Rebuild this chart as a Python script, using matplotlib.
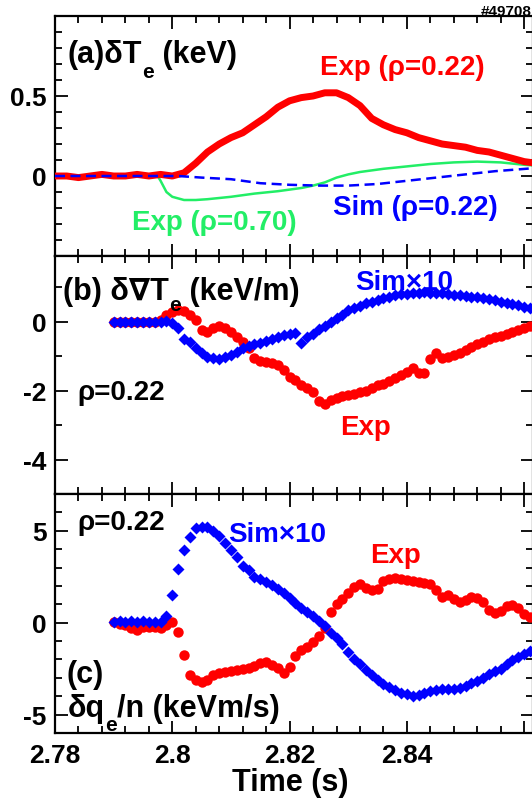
import numpy as np
import matplotlib
matplotlib.use("Agg")
import matplotlib.pyplot as plt
from matplotlib.ticker import MultipleLocator, FixedLocator

plt.rcParams['font.family'] = ['Liberation Sans', 'DejaVu Sans']
plt.rcParams['font.weight'] = 'bold'

RED = '#ff0000'
BLUE = '#0000ff'
GREEN = '#22ee66'

# ---- (a) electron temperature perturbation -------------------------------
t_exp_a = [2.780, 2.782, 2.784, 2.786, 2.788, 2.790, 2.792, 2.794, 2.796, 2.798,
           2.800, 2.802, 2.804, 2.806, 2.808, 2.810, 2.812, 2.814, 2.816, 2.818,
           2.820, 2.822, 2.824, 2.826, 2.828, 2.830, 2.832, 2.834, 2.836, 2.838,
           2.840, 2.842, 2.844, 2.846, 2.848, 2.850, 2.852, 2.854, 2.856, 2.858,
           2.860, 2.862]
dTe_exp_022 = [0.00, 0.00, -0.01, 0.00, 0.01, 0.00, 0.00, 0.01, 0.00, 0.01,
               0.00, 0.02, 0.08, 0.15, 0.20, 0.24, 0.27, 0.32, 0.37, 0.43,
               0.47, 0.49, 0.50, 0.52, 0.52, 0.49, 0.44, 0.36, 0.32, 0.29,
               0.27, 0.24, 0.22, 0.20, 0.19, 0.18, 0.16, 0.15, 0.13, 0.11,
               0.09, 0.08]

t_exp_070 = [2.780, 2.790, 2.7975, 2.798, 2.799, 2.800, 2.802, 2.804, 2.806, 2.810,
             2.814, 2.818, 2.820, 2.822, 2.824, 2.826, 2.828, 2.830, 2.832, 2.834,
             2.836, 2.840, 2.844, 2.848, 2.852, 2.856, 2.860, 2.862]
dTe_exp_070 = [0.00, 0.00, 0.00, -0.03, -0.10, -0.13, -0.15, -0.15, -0.145, -0.13,
               -0.11, -0.095, -0.085, -0.075, -0.06, -0.04, -0.01, 0.01, 0.025, 0.035,
               0.045, 0.06, 0.075, 0.085, 0.09, 0.085, 0.07, 0.065]

t_sim_a = [2.780, 2.801, 2.805, 2.810, 2.815, 2.820, 2.825, 2.830, 2.835, 2.840,
           2.845, 2.850, 2.855, 2.862]
dTe_sim = [0.00, 0.00, -0.01, -0.02, -0.045, -0.055, -0.06, -0.06, -0.05, -0.03,
           -0.01, 0.01, 0.03, 0.05]

# ---- (b), (c) profiles sampled every 1 ms at rho = 0.22 --------------------
t_bc = np.round(np.arange(2.790, 2.8615, 0.001), 3)

dgradTe_exp = [0.00, 0.00, 0.00, -0.02, -0.02, 0.00, 0.00, 0.00, 0.05, 0.18,
               0.28, 0.33, 0.30, 0.20, 0.05, -0.25, -0.30, -0.18, -0.14, -0.18,
               -0.30, -0.45, -0.60, -0.78, -1.05, -1.15, -1.18, -1.20, -1.25, -1.40,
               -1.60, -1.70, -1.85, -1.93, -2.05, -2.30, -2.38, -2.28, -2.22, -2.16,
               -2.13, -2.10, -2.05, -2.00, -1.93, -1.85, -1.80, -1.72, -1.64, -1.56,
               -1.47, -1.35, -1.50, -1.48, -1.10, -0.92, -1.05, -1.02, -0.98, -0.90,
               -0.82, -0.74, -0.65, -0.58, -0.50, -0.46, -0.42, -0.37, -0.30, -0.24,
               -0.20, -0.13]
dgradTe_sim10 = [0.00, 0.00, 0.00, 0.00, 0.00, 0.00, 0.00, 0.00, 0.00, 0.03,
                 -0.03, -0.20, -0.50, -0.60, -0.77, -0.92, -1.02, -1.07, -1.08, -1.04,
                 -0.97, -0.88, -0.78, -0.72, -0.66, -0.61, -0.55, -0.50, -0.44, -0.40,
                 -0.36, -0.32, -0.62, -0.46, -0.35, -0.22, -0.12, -0.02, 0.10, 0.20,
                 0.32, 0.40, 0.46, 0.53, 0.58, 0.63, 0.68, 0.72, 0.76, 0.79,
                 0.81, 0.83, 0.84, 0.85, 0.84, 0.83, 0.82, 0.80, 0.78, 0.76,
                 0.74, 0.72, 0.70, 0.68, 0.65, 0.62, 0.58, 0.55, 0.51, 0.47,
                 0.43, 0.39]

dqe_exp = [0.05, -0.05, -0.10, -0.30, -0.40, -0.25, -0.25, -0.25, -0.30, -0.10,
           0.05, -0.50, -1.75, -2.85, -3.10, -3.20, -3.10, -2.85, -2.75, -2.70,
           -2.65, -2.55, -2.50, -2.45, -2.35, -2.20, -2.15, -2.30, -2.45, -2.75,
           -2.40, -1.80, -1.50, -1.30, -1.05, -0.75, -0.30, 0.60, 1.00, 1.30,
           1.60, 1.95, 2.10, 1.90, 1.80, 1.85, 2.25, 2.40, 2.45, 2.38,
           2.30, 2.27, 2.22, 2.18, 2.10, 1.80, 1.40, 1.50, 1.30, 1.15,
           1.25, 1.38, 1.35, 1.10, 0.70, 0.50, 0.65, 0.90, 0.95, 0.80,
           0.45, 0.30]
dqe_sim10 = [0.05, 0.08, 0.05, 0.08, 0.05, 0.08, 0.05, 0.05, 0.05, 0.35,
             1.50, 2.90, 3.95, 4.65, 5.15, 5.20, 5.20, 5.00, 4.70, 4.35,
             3.95, 3.55, 3.10, 2.85, 2.50, 2.35, 2.22, 2.05, 1.85, 1.60,
             1.35, 1.05, 0.82, 0.60, 0.35, 0.10, -0.20, -0.55, -0.85, -1.15,
             -1.60, -1.95, -2.24, -2.55, -2.85, -3.10, -3.35, -3.50, -3.65, -3.80,
             -3.90, -3.97, -3.92, -3.85, -3.72, -3.66, -3.62, -3.60, -3.60, -3.55,
             -3.42, -3.30, -3.15, -3.00, -2.80, -2.65, -2.50, -2.25, -2.05, -1.85,
             -1.70, -1.55]

x_ticks = [2.78, 2.80, 2.82, 2.84]
x_ticklabels = ['2.78', '2.8', '2.82', '2.84']

# ---- figure layout -------------------------------------------------------
W, H = 532, 803
fig = plt.figure(figsize=(W / 100, H / 100), dpi=100)


def px_axes(x0, y0, x1, y1):
    return fig.add_axes([x0 / W, 1 - y1 / H, (x1 - x0) / W, (y1 - y0) / H])


ax_a = px_axes(55, 17, 533, 257)
ax_b = px_axes(55, 257, 533, 495)
ax_c = px_axes(55, 495, 533, 734)

for ax in (ax_a, ax_b, ax_c):
    ax.set_xlim(2.78, 2.8615)
    ax.xaxis.set_major_locator(FixedLocator([2.78, 2.80, 2.82, 2.84, 2.86]))
    ax.xaxis.set_minor_locator(MultipleLocator(0.004))
    ax.tick_params(which='both', direction='in', top=True, right=True,
                   labelsize=19, width=1.3, pad=6)
    ax.tick_params(which='major', length=9)
    ax.tick_params(which='minor', length=5)
    for sp in ax.spines.values():
        sp.set_linewidth(1.6)
    ax.set_xticklabels([])

LBL = 20      # annotation size
PNL = 22      # panel title size
SUB = 15      # subscript size
tkw = dict(fontweight='bold', va='baseline', ha='left')


def subscript_label(ax, x, y, head, sub, tail, drop):
    """Panel title with a dropped subscript: head + sub + tail."""
    t0 = ax.text(x, y, head, transform=ax.transAxes, fontsize=PNL, **tkw)
    d_main = 0.212 * PNL * 100 / 72
    d_sub = 0.212 * SUB * 100 / 72
    t1 = ax.annotate(sub, xy=(1, 0), xycoords=t0, xytext=(0, d_main - d_sub - drop),
                     textcoords='offset pixels', fontsize=SUB, fontweight='bold',
                     va='bottom', ha='left')
    ax.annotate(tail, xy=(1, 0), xycoords=(t1, t0), xytext=(0, 0),
                textcoords='offset pixels', fontsize=PNL, fontweight='bold',
                va='bottom', ha='left')


# (a)
ax_a.plot(t_exp_070, dTe_exp_070, color=GREEN, lw=1.8, zorder=2)
ax_a.plot(t_exp_a, dTe_exp_022, color=RED, lw=5, zorder=3)
ax_a.plot(t_sim_a, dTe_sim, color=BLUE, lw=1.8, ls=(0, (4, 2.2)), zorder=4)
ax_a.set_ylim(-0.5, 1.0)
ax_a.set_yticks([0, 0.5])
ax_a.set_yticklabels(['0', '0.5'], fontweight='bold')
ax_a.yaxis.set_minor_locator(MultipleLocator(0.1))

subscript_label(ax_a, 0.027, 0.807, '(a)δT', 'e', ' (keV)', 14)
ax_a.text(0.554, 0.758, 'Exp (ρ=0.22)', transform=ax_a.transAxes, color=RED,
          fontsize=LBL, **tkw)
ax_a.text(0.161, 0.112, 'Exp (ρ=0.70)', transform=ax_a.transAxes, color=GREEN,
          fontsize=LBL, **tkw)
ax_a.text(0.582, 0.175, 'Sim (ρ=0.22)', transform=ax_a.transAxes, color=BLUE,
          fontsize=LBL, **tkw)

# (b)
ax_b.plot(t_bc, dgradTe_exp, 'o', color=RED, ms=7.5, mec='none', zorder=3)
ax_b.plot(t_bc, dgradTe_sim10, 'D', color=BLUE, ms=6.3, mec='none', zorder=4)
ax_b.set_ylim(-5, 1.9)
ax_b.set_yticks([0, -2, -4])
ax_b.set_yticklabels(['0', '-2', '-4'], fontweight='bold')
ax_b.yaxis.set_minor_locator(MultipleLocator(1))
subscript_label(ax_b, 0.017, 0.819, '(b) δ∇T', 'e', ' (keV/m)', 10)
ax_b.text(0.628, 0.861, 'Sim×10', transform=ax_b.transAxes, color=BLUE,
          fontsize=LBL, **tkw)
ax_b.text(0.046, 0.399, 'ρ=0.22', transform=ax_b.transAxes, color='black',
          fontsize=LBL, **tkw)
ax_b.text(0.596, 0.252, 'Exp', transform=ax_b.transAxes, color=RED,
          fontsize=LBL, **tkw)

# (c)
ax_c.plot(t_bc, dqe_exp, 'o', color=RED, ms=7.5, mec='none', zorder=3)
ax_c.plot(t_bc, dqe_sim10, 'D', color=BLUE, ms=6.3, mec='none', zorder=4)
ax_c.set_ylim(-6, 7)
ax_c.set_yticks([5, 0, -5])
ax_c.set_yticklabels(['5', '0', '-5'], fontweight='bold')
ax_c.yaxis.set_minor_locator(MultipleLocator(1))
ax_c.text(0.046, 0.854, 'ρ=0.22', transform=ax_c.transAxes, color='black',
          fontsize=LBL, **tkw)
ax_c.text(0.362, 0.805, 'Sim×10', transform=ax_c.transAxes, color=BLUE,
          fontsize=LBL, **tkw)
ax_c.text(0.659, 0.714, 'Exp', transform=ax_c.transAxes, color=RED,
          fontsize=LBL, **tkw)
ax_c.text(0.025, 0.212, '(c)', transform=ax_c.transAxes, color='black',
          fontsize=PNL, **tkw)
subscript_label(ax_c, 0.027, 0.0725, 'δq', 'e', '/n (keVm/s)', 13)

ax_c.set_xticks(x_ticks + [2.86])
ax_c.set_xticklabels(x_ticklabels + [''], fontsize=19, fontweight='bold')
ax_c.tick_params(axis='x', pad=7)

fig.text(290 / W, 1 - 791 / H, 'Time (s)', ha='center', va='baseline',
         fontsize=22, fontweight='bold')
fig.text(1.0, 1 - 16 / H, '#49708', ha='right', va='baseline',
         fontsize=11, fontweight='bold')

fig.savefig('out.png', dpi=100)
